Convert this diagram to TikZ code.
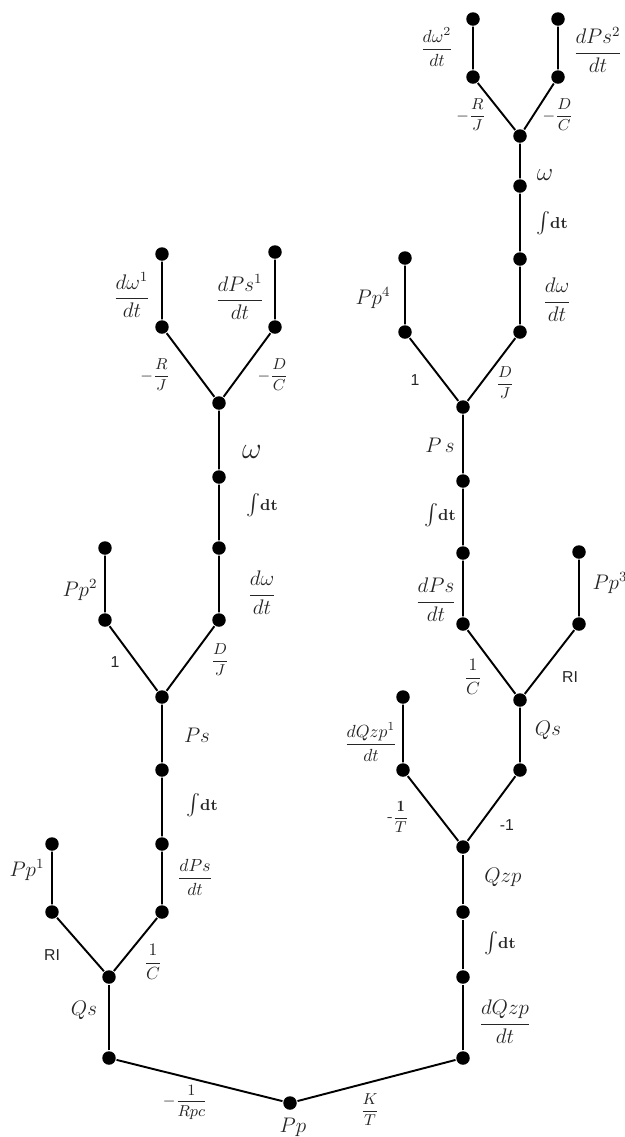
\documentclass[tikz,border=0pt]{standalone}
\usepackage{amsmath}
\usepackage{fontspec}
\newfontfamily\lblsans{Liberation Sans}
\usetikzlibrary{positioning}
\tikzset{
    dot/.style={
        circle,
        fill=black,
        inner sep=0pt,
        minimum size=0.27cm
    },
    lbl/.style={inner sep=1pt, text=black!85},
    var/.style={lbl, font=\large},
    varsm/.style={lbl, font=\normalsize},
    coef/.style={lbl, font=\small},
    coefsans/.style={lbl, font=\lblsans\small},
    integ/.style={lbl, font=\small}
}

\begin{document}
\begin{tikzpicture}[
    x=0.02cm,
    y=-0.02cm,
    line width=1.1pt
]
    \useasboundingbox (0,0) rectangle (625,1137);

    % Base
    \node[dot] (pp) at (290,1103) {};
    \node[dot] (lc) at (109,1058) {};
    \node[dot] (rc) at (463,1058) {};

    % Arbol izquierdo
    \node[dot] (lqs)   at (109,977) {};
    \node[dot] (lri)   at (52,912)  {};
    \node[dot] (lpp1)  at (52,844)  {};
    \node[dot] (lcA)   at (162,912) {};
    \node[dot] (lcB)   at (162,844) {};
    \node[dot] (lcC)   at (162,770) {};
    \node[dot] (lps)   at (162,697) {};
    \node[dot] (lone)  at (105,620) {};
    \node[dot] (lpp2)  at (105,548) {};
    \node[dot] (ldj)   at (219,620) {};
    \node[dot] (ldw)   at (219,548) {};
    \node[dot] (lint)  at (219,477) {};
    \node[dot] (lw)    at (219,403) {};
    \node[dot] (lrj)   at (162,327) {};
    \node[dot] (lrjt)  at (162,254) {};
    \node[dot] (ldc)   at (275,327) {};
    \node[dot] (ldct)  at (275,252) {};

    % Arbol derecho
    \node[dot] (rdq)   at (463,977) {};
    \node[dot] (rint)  at (463,912) {};
    \node[dot] (rqzp)  at (463,847) {};
    \node[dot] (rtq)   at (403,770) {};
    \node[dot] (rtqt)  at (403,697) {};
    \node[dot] (rm)    at (520,770) {};
    \node[dot] (rqs)   at (520,700) {};
    \node[dot] (rcA)   at (463,624) {};
    \node[dot] (rcB)   at (463,553) {};
    \node[dot] (rcC)   at (463,481) {};
    \node[dot] (rps)   at (463,407) {};
    \node[dot] (rri)   at (579,624) {};
    \node[dot] (rpp3)  at (579,552) {};
    \node[dot] (rone)  at (405,332) {};
    \node[dot] (rpp4)  at (405,258) {};
    \node[dot] (rdj)   at (520,332) {};
    \node[dot] (rdw)   at (520,259) {};
    \node[dot] (rint2) at (520,186) {};
    \node[dot] (rw)    at (520,136) {};
    \node[dot] (rrj)   at (473,77)  {};
    \node[dot] (rrjt)  at (473,19)  {};
    \node[dot] (rdc)   at (558,77)  {};
    \node[dot] (rdct)  at (558,19)  {};

    % Ramas
    \draw (lc) -- (pp) -- (rc);
    \draw (lc) -- (lqs);
    \draw (lpp1) -- (lri) -- (lqs) -- (lcA) -- (lcB) -- (lcC) -- (lps);
    \draw (lpp2) -- (lone) -- (lps) -- (ldj) -- (ldw) -- (lint) -- (lw);
    \draw (lrjt) -- (lrj) -- (lw) -- (ldc) -- (ldct);
    \draw (rc) -- (rdq) -- (rint) -- (rqzp);
    \draw (rtqt) -- (rtq) -- (rqzp) -- (rm) -- (rqs);
    \draw (rpp3) -- (rri) -- (rqs) -- (rcA) -- (rcB) -- (rcC) -- (rps);
    \draw (rpp4) -- (rone) -- (rps) -- (rdj) -- (rdw) -- (rint2) -- (rw);
    \draw (rrjt) -- (rrj) -- (rw) -- (rdc) -- (rdct);

    % Etiquetas: arbol izquierdo
    \node[var]   (tldw1) at (132,295)  {$\dfrac{d\omega^1}{dt}$};
    \node[var]   (tldp1) at (240,297)  {$\dfrac{dPs^1}{dt}$};
    \node[coef]  (tlrj)  at (155,375)  {$-\dfrac{R}{J}$};
    \node[coef]  (tldc)  at (273,375)  {$-\dfrac{D}{C}$};
    \node[lbl, font=\LARGE] (tlw) at (252,452) {$\omega$};
    \node[integ] (tlint) at (262,505)  {{\large$\int$}\textbf{dt}};
    \node[var]   (tldw)  at (262,593)  {$\dfrac{d\omega}{dt}$};
    \node[var]   (tlpp2) at (80,590)   {$Pp^2$};
    \node[coefsans] (tlone) at (115,662) {1};
    \node[coef]  (tldj)  at (220,660)  {$\dfrac{D}{J}$};
    \node[var]   (tlps)  at (197,735)  {$Ps$};
    \node[integ] (tlintb) at (202,805) {{\large$\int$}\textbf{dt}};
    \node[varsm] (tldps) at (195,877)  {$\dfrac{dPs}{dt}$};
    \node[var]   (tlpp1) at (27,870)   {$Pp^1$};
    \node[coefsans] (tlri) at (52,955) {RI};
    \node[lbl, font=\normalsize] (tlc) at (153,962) {$\dfrac{1}{C}$};
    \node[var]   (tlqs)  at (84,1010)  {$Qs$};

    % Etiquetas: base
    \node[coef]  (trpc)  at (185,1102) {$-\dfrac{1}{Rpc}$};
    \node[var]   (tpp)   at (293,1127) {$Pp$};
    \node[coef]  (tkt)   at (370,1110) {$\dfrac{K}{T}$};

    % Etiquetas: arbol derecho
    \node[var]   (trdq)  at (505,1022) {$\dfrac{dQzp}{dt}$};
    \node[integ] (trint) at (500,943)  {{\large$\int$}\textbf{dt}};
    \node[var]   (trqzp) at (503,877)  {$Qzp$};
    \node[coef]  (trt)   at (398,817)  {-$\dfrac{\mathbf{1}}{T}$};
    \node[coefsans] (trm) at (507,825) {-1};
    \node[varsm] (trdq1) at (371,742)  {$\dfrac{dQzp^1}{dt}$};
    \node[var]   (trqs)  at (548,730)  {$Qs$};
    \node[lbl, font=\normalsize] (trc) at (473,677) {$\dfrac{1}{C}$};
    \node[coefsans] (trri) at (570,677) {RI};
    \node[var]   (trdps) at (436,600)  {$\dfrac{dPs}{dt}$};
    \node[var]   (trpp3) at (610,583)  {$Pp^3$};
    \node[integ] (trintb) at (440,515) {{\large$\int$}\textbf{dt}};
    \node[var]   (trps)  at (440,445)  {$P\,s$};
    \node[coefsans] (trone) at (415,380) {1};
    \node[coef]  (trdj)  at (505,383)  {$\dfrac{D}{J}$};
    \node[var]   (trpp4) at (373,298)  {$Pp^4$};
    \node[var]   (trdw)  at (557,300)  {$\dfrac{d\omega}{dt}$};
    \node[integ] (trintc) at (552,223) {{\large$\int$}\textbf{dt}};
    \node[lbl, font=\Large] (trw) at (545,175) {$\omega$};
    \node[coef]  (trrj)  at (471,115)  {$-\dfrac{R}{J}$};
    \node[coef]  (trdc)  at (558,115)  {$-\dfrac{D}{C}$};
    \node[varsm] (trdw2) at (437,47)   {$\dfrac{d\omega^2}{dt}$};
    \node[var]   (trdp2) at (598,50)   {$\dfrac{dPs^2}{dt}$};

\end{tikzpicture}
\end{document}
